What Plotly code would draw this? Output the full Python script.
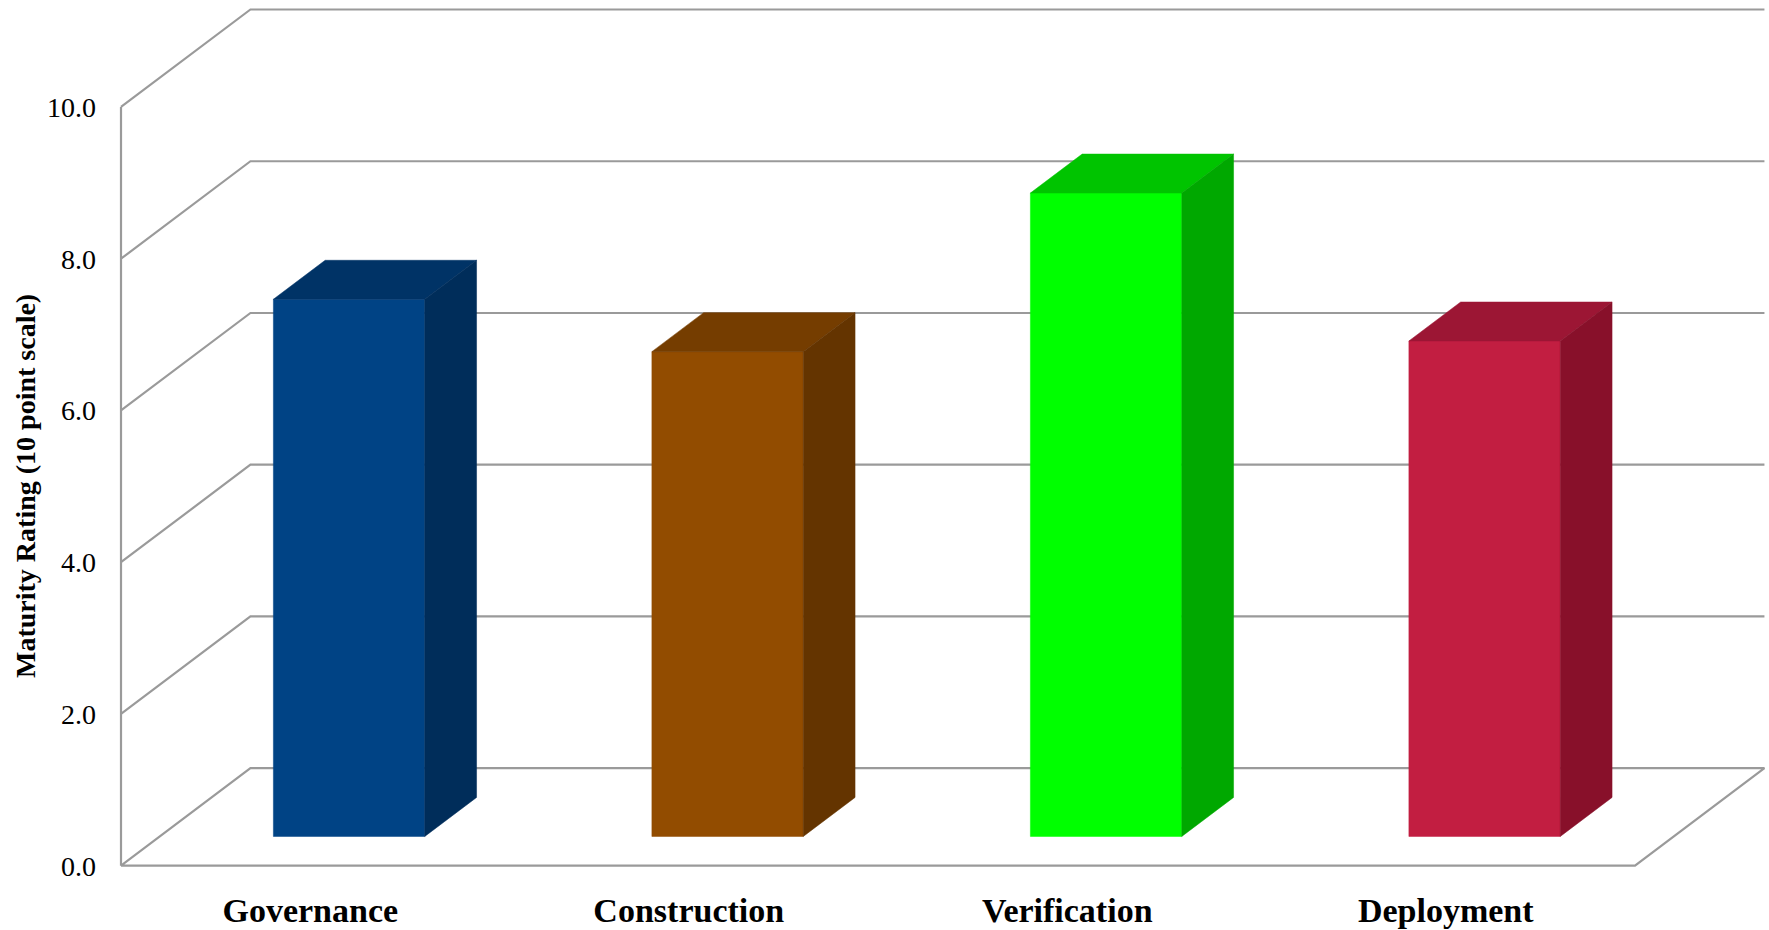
import plotly.graph_objects as go

# ---- data ----
categories = ["Governance", "Construction", "Verification", "Deployment"]
ratings = [7.08, 6.39, 8.48, 6.53]
y_ticks = [0, 2, 4, 6, 8, 10]
y_title = "Maturity Rating (10 point scale)"

front_colors = ["#004385", "#924C00", "#00FF00", "#C21E41"]
top_colors = ["#003366", "#753D00", "#00C400", "#9C1634"]
side_colors = ["#002D5A", "#643400", "#00A800", "#88102A"]

# ---- oblique projection parameters (data units) ----
DX = 0.342   # horizontal shift of full depth (category units)
DY = 1.285   # vertical shift of full depth (value units)
D0, D1 = 0.30, 0.70   # bar depth span
W = 0.40              # bar width
N = len(categories)
GRID = "#9A9A9A"

fig = go.Figure()

# walls / floor gridlines
for v in y_ticks:
    xs = [0, DX, N + DX]
    ys = [v, v + DY, v + DY]
    if v == 0:
        xs = [0, DX, N + DX, N, 0]
        ys = [0, DY, DY, 0, 0]
    fig.add_trace(go.Scatter(x=xs, y=ys, mode="lines",
                             line=dict(color=GRID, width=2.2),
                             hoverinfo="skip", showlegend=False))
# front vertical axis line
fig.add_trace(go.Scatter(x=[0, 0], y=[0, max(y_ticks)], mode="lines",
                         line=dict(color=GRID, width=2.2),
                         hoverinfo="skip", showlegend=False))

def poly(xs, ys, color, name):
    fig.add_trace(go.Scatter(x=xs + [xs[0]], y=ys + [ys[0]], mode="lines",
                             fill="toself", fillcolor=color,
                             line=dict(color=color, width=0.5),
                             name=name, hoverinfo="name", showlegend=False))

for i, (cat, v) in enumerate(zip(categories, ratings)):
    c = i + 0.5
    xl, xr = c - W / 2, c + W / 2
    # front face
    poly([xl + D0 * DX, xr + D0 * DX, xr + D0 * DX, xl + D0 * DX],
         [D0 * DY, D0 * DY, v + D0 * DY, v + D0 * DY], front_colors[i], cat)
    # top face
    poly([xl + D0 * DX, xr + D0 * DX, xr + D1 * DX, xl + D1 * DX],
         [v + D0 * DY, v + D0 * DY, v + D1 * DY, v + D1 * DY], top_colors[i], cat)
    # side face
    poly([xr + D0 * DX, xr + D1 * DX, xr + D1 * DX, xr + D0 * DX],
         [D0 * DY, D1 * DY, v + D1 * DY, v + D0 * DY], side_colors[i], cat)

fig.update_layout(
    width=1769, height=930, autosize=False,
    template="none",
    paper_bgcolor="white", plot_bgcolor="white",
    margin=dict(l=116, r=1, t=6, b=61, pad=0),
    xaxis=dict(range=[-0.0132, 4.3514], showgrid=False, zeroline=False,
               showline=False, automargin=False,
               tickmode="array", tickvals=[i + 0.5 for i in range(N)],
               ticktext=[f"<b>{c}</b>" for c in categories],
               ticks="", ticklabelstandoff=18,
               tickfont=dict(family="Liberation Serif", size=34, color="black")),
    yaxis=dict(range=[-0.0435, 11.331], showgrid=False, zeroline=False,
               showline=False, automargin=False,
               tickmode="array", tickvals=y_ticks,
               ticktext=[f"{t:.1f}" for t in y_ticks],
               ticks="", ticklabelstandoff=19,
               tickfont=dict(family="Liberation Serif", size=28, color="black")),
    annotations=[dict(text=f"<b>{y_title}</b>", textangle=-90,
                      xref="paper", yref="paper",
                      x=(25 - 116) / 1652, y=(869 - 486) / 863,
                      xanchor="center", yanchor="middle", showarrow=False,
                      font=dict(family="Liberation Serif", size=28, color="black"))],
)

fig.write_html("out.html")
